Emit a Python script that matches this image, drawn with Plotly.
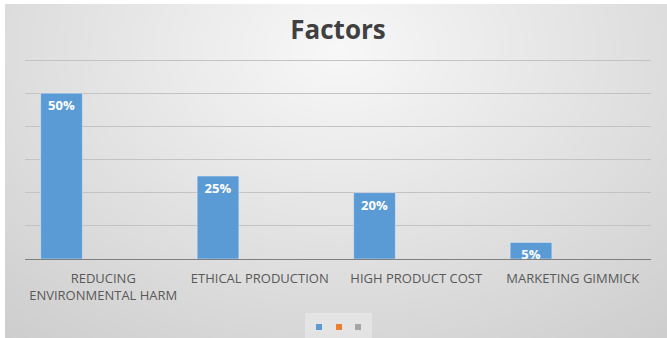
import base64, struct, zlib
import numpy as np
import plotly.graph_objects as go

categories = ["REDUCING<br>ENVIRONMENTAL HARM", "ETHICAL PRODUCTION", "HIGH PRODUCT COST", "MARKETING GIMMICK"]
series1 = [50, 25, 20, 5]
series2 = [None, None, None, None]
series3 = [None, None, None, None]
series_colors = ["#5b9bd5", "#ed7d31", "#a5a5a5"]
title_text = "Factors"
y_ticks = [10, 20, 30, 40, 50, 60]

W, H = 667, 338
L, R, T, B = 25, 16, 56, 79
pw, ph = W - L - R, H - T - B
px_per_unit = 199 / 60.0
y_max = ph / px_per_unit

def px2x(px):
    return (px - L) / pw

def py2y(py):
    return (H - B - py) / ph

# radial grey background as a PNG data URI
def make_bg(w, h):
    ys, xs = np.mgrid[0:h, 0:w].astype(float)
    sx, sy = (W - 5) / w, (H - 4) / h
    px, py = xs * sx + 5, ys * sy + 4
    d = np.sqrt(((px - 338) / 420) ** 2 + ((py - 50) / 300) ** 2)
    v = np.clip(248 - 34 * d, 0, 255).astype(np.uint8)
    raw = b"".join(b"\x00" + v[i].tobytes() for i in range(h))
    def chunk(t, data):
        c = t + data
        return struct.pack(">I", len(data)) + c + struct.pack(">I", zlib.crc32(c) & 0xffffffff)
    png = b"\x89PNG\r\n\x1a\n" + chunk(b"IHDR", struct.pack(">IIBBBBB", w, h, 8, 0, 0, 0, 0)) \
        + chunk(b"IDAT", zlib.compress(raw, 9)) + chunk(b"IEND", b"")
    return "data:image/png;base64," + base64.b64encode(png).decode()

bg = make_bg(331, 167)

fig = go.Figure()
fig.add_trace(go.Bar(x=categories, y=series1, name=" ", marker_color=series_colors[0], showlegend=False,
                     texttemplate="%{y}%", textposition="inside", insidetextanchor="end",
                     constraintext="none", textangle=0,
                     textfont=dict(color="white", size=13, family="Open Sans", weight="bold")))
fig.add_trace(go.Bar(x=categories, y=series2, name=" ", marker_color=series_colors[1], showlegend=False))
fig.add_trace(go.Bar(x=categories, y=series3, name=" ", marker_color=series_colors[2], showlegend=False))

# legend entries (one small square per series, each in its own legend)
legend_names = ["legend", "legend2", "legend3"]
legend_px = [319, 339, 358]
for c, lg in zip(series_colors, legend_names):
    fig.add_trace(go.Scatter(x=[None], y=[None], mode="markers", name=" ", legend=lg,
                             marker=dict(symbol="square", size=6, color=c)))

leg_common = dict(orientation="h", yanchor="middle", y=py2y(327), xanchor="left",
                  bgcolor="rgba(0,0,0,0)", font=dict(size=6), itemwidth=30)
legends = {}
for lg, lx in zip(legend_names, legend_px):
    legends[lg] = dict(leg_common, x=px2x(lx - 20))

fig.update_layout(
    width=W, height=H,
    margin=dict(l=L, r=R, t=T, b=B, autoexpand=False),
    paper_bgcolor="white", plot_bgcolor="rgba(0,0,0,0)",
    barmode="group", bargap=0.2, bargroupgap=0,
    title=dict(text="<b>" + title_text + "</b>", x=338 / W, xanchor="center",
               y=1 - 30 / H, yanchor="middle", yref="container",
               font=dict(size=26, color="#404040", family="Open Sans")),
    showlegend=True,
    images=[dict(source=bg, xref="paper", yref="paper", x=px2x(5), y=py2y(4),
                 sizex=(W - 5) / pw, sizey=(H - 4) / ph, sizing="stretch",
                 xanchor="left", yanchor="top", layer="below")],
    shapes=[dict(type="rect", xref="paper", yref="paper", x0=px2x(305), x1=px2x(372),
                 y0=py2y(338), y1=py2y(313), line=dict(width=0),
                 fillcolor="rgba(255,255,255,0.3)", layer="below")],
    font=dict(family="Open Sans", color="#595959"),
    **legends,
)
fig.update_xaxes(showline=True, linecolor="#7f7f7f", linewidth=1, ticks="outside", ticklen=7,
                 tickcolor="rgba(0,0,0,0)", tickfont=dict(size=13, color="#595959"),
                 showgrid=False)
fig.update_yaxes(range=[0, y_max], tickvals=y_ticks, showgrid=True,
                 gridcolor="#c3c3c3", gridwidth=1,
                 showticklabels=False, zeroline=False, showline=False)

fig.write_html("out.html")
